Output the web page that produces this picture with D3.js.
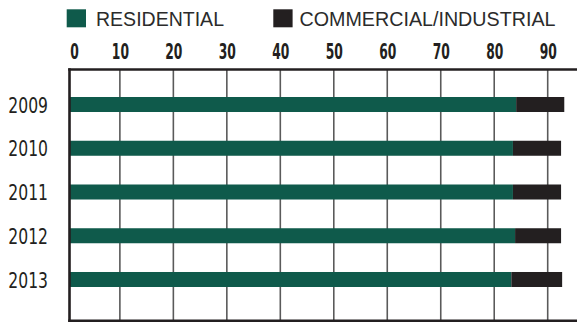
<!DOCTYPE html>
<html>
<head>
<meta charset="utf-8">
<script src="https://cdn.jsdelivr.net/npm/d3@7"></script>
<style>
html,body{margin:0;padding:0;background:#fff;}
svg{display:block;}
</style>
</head>
<body>
<svg id="chart" width="577" height="322"></svg>
<script>
const years = ["2009", "2010", "2011", "2012", "2013"];
const residential = [84.1, 83.5, 83.5, 83.9, 83.2];
const commercial = [9.0, 9.0, 9.0, 8.6, 9.5];
const tickValues = [0, 10, 20, 30, 40, 50, 60, 70, 80, 90];
const seriesNames = ["RESIDENTIAL", "COMMERCIAL/INDUSTRIAL"];
const seriesColors = ["#0f5a4b", "#231f20"];

const svg = d3.select("#chart");
const W = 577, H = 322;
const axisX = 69.5, topY = 69.5, bottomY = 320.7;

const x = d3.scaleLinear().domain([0, 90]).range([66.4, 547.7]);
const y = d3.scaleBand().domain(years).range([97, 287]).paddingInner(0.657).paddingOuter(0);

const font = "'DejaVu Sans',sans-serif";
const tickSX = 0.56, yearSX = 0.71;

// gridlines
svg.append("g").selectAll("line").data(tickValues.filter(d => d > 0)).join("line")
  .attr("x1", d => x(d)).attr("x2", d => x(d))
  .attr("y1", topY).attr("y2", bottomY)
  .attr("stroke", "#5a5a5a").attr("stroke-width", 1.6);

// top axis labels
const axis = d3.axisTop(x).tickValues(tickValues).tickSize(0).tickPadding(0).tickFormat(d3.format("d"));
const ag = svg.append("g").attr("transform", `translate(0,59)`).call(axis);
ag.select(".domain").remove();
ag.selectAll("text")
  .attr("dy", 0)
  .attr("y", 0)
  .attr("font-family", font)
  .attr("font-weight", "bold")
  .attr("font-size", 22)
  .attr("fill", "#231f20")
  .attr("transform", `scale(${tickSX},1)`)
  .attr("x", d => d === 0 ? ((axisX - x(0)) + 4.5) / tickSX : 0);

// bars
const rows = years.map((yr, i) => ({ yr, r: residential[i], c: commercial[i] }));
const bars = svg.append("g");
bars.selectAll("rect.res").data(rows).join("rect").attr("class", "res")
  .attr("x", axisX)
  .attr("y", d => y(d.yr))
  .attr("width", d => x(d.r) - axisX)
  .attr("height", y.bandwidth())
  .attr("fill", seriesColors[0]);
bars.selectAll("rect.com").data(rows).join("rect").attr("class", "com")
  .attr("x", d => x(d.r))
  .attr("y", d => y(d.yr))
  .attr("width", d => x(d.r + d.c) - x(d.r))
  .attr("height", y.bandwidth())
  .attr("fill", seriesColors[1]);

// axis frame lines
svg.append("line").attr("x1", 68.2).attr("x2", W).attr("y1", topY).attr("y2", topY)
  .attr("stroke", "#231f20").attr("stroke-width", 2.4);
svg.append("line").attr("x1", 68.2).attr("x2", W).attr("y1", bottomY).attr("y2", bottomY)
  .attr("stroke", "#231f20").attr("stroke-width", 2.4);
svg.append("line").attr("x1", axisX).attr("x2", axisX).attr("y1", topY - 1.2).attr("y2", bottomY + 1.2)
  .attr("stroke", "#231f20").attr("stroke-width", 2.6);

// year labels
svg.append("g").selectAll("text").data(years).join("text")
  .attr("transform", d => `translate(48,${y(d) + y.bandwidth() / 2 + 8.2}) scale(${yearSX},1)`)
  .attr("text-anchor", "end")
  .attr("font-family", font)
  .attr("font-size", 22)
  .attr("fill", "#231f20")
  .text(d => d);

// legend
const legendItems = [
  { name: seriesNames[0], color: seriesColors[0], sx: 66.7, tx: 96, tw: 128 },
  { name: seriesNames[1], color: seriesColors[1], sx: 273.3, tx: 299.5, tw: 256 }
];
const lg = svg.append("g");
lg.selectAll("rect").data(legendItems).join("rect")
  .attr("x", d => d.sx).attr("y", 9.3).attr("width", 19.3).attr("height", 18)
  .attr("fill", d => d.color);
lg.selectAll("text").data(legendItems).join("text")
  .attr("x", d => d.tx).attr("y", 26)
  .attr("font-family", "'Liberation Sans','DejaVu Sans',sans-serif")
  .attr("font-size", 19.5)
  .attr("fill", "#2b2b2b")
  .attr("textLength", d => d.tw)
  .attr("lengthAdjust", "spacingAndGlyphs")
  .text(d => d.name);
</script>
</body>
</html>
